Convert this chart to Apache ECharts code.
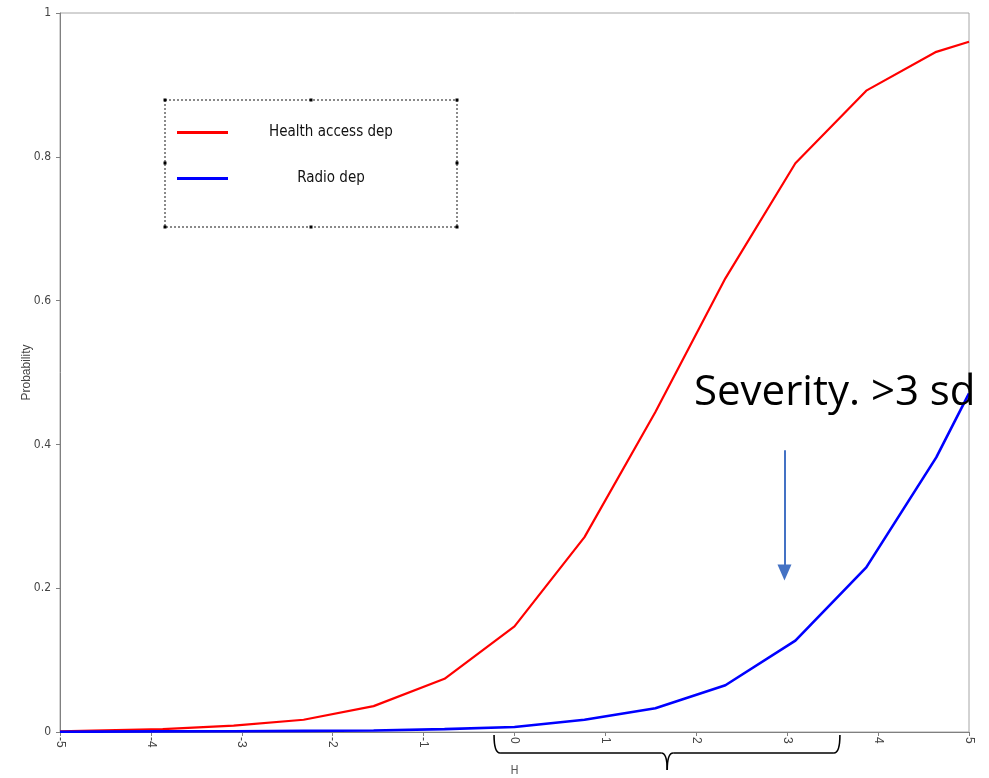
<!DOCTYPE html>
<html>
<head>
<meta charset="utf-8">
<script src="https://cdn.jsdelivr.net/npm/echarts@6/dist/echarts.min.js"></script>
<style>html,body{margin:0;padding:0;background:#fff;}#c{width:989px;height:778px;}</style>
</head>
<body>
<div id="c"></div>
<script>
// ---- data ----
const xValues = [-5, -4.64, -3.87, -3.09, -2.32, -1.55, -0.77, 0, 0.77, 1.55, 2.32, 3.09, 3.87, 4.64, 5];
const healthAccessDep = [0.001, 0.002, 0.004, 0.009, 0.017, 0.036, 0.074, 0.147, 0.271, 0.445, 0.631, 0.791, 0.892, 0.946, 0.960];
const radioDep = [0.0003, 0.0005, 0.0008, 0.001, 0.0015, 0.002, 0.004, 0.007, 0.017, 0.033, 0.065, 0.127, 0.229, 0.382, 0.471];
const seriesNames = ['Health access dep', 'Radio dep'];
const annotationText = 'Severity. >3 sd';
const arrowFrom = [2.97, 0.392];
const arrowTo = [2.97, 0.222];
const braceRange = [-0.225, 3.58, 1.68];
const xAxisName = 'H';
const yAxisName = 'Probability';

const narrow = "'Liberation Sans Narrow','DejaVu Sans Condensed','Liberation Sans',sans-serif";

const chart = echarts.init(document.getElementById('c'), null, {renderer: 'canvas'});
const option = {
  animation: false,
  backgroundColor: '#ffffff',
  grid: {left: 60, right: 20, top: 13, bottom: 46, show: true, borderColor: '#a6a6a6', borderWidth: 1, backgroundColor: 'transparent'},
  legend: {
    left: 165, top: 100, orient: 'vertical',
    padding: [25, 28, 41, 12],
    itemWidth: 51, itemHeight: 3, itemGap: 31,
    icon: 'rect',
    borderColor: '#8a8a8a', borderWidth: 2, borderType: 'dotted',
    formatter: function (n) { return '{c|' + n + '}'; },
    textStyle: {
      rich: {c: {width: 196, align: 'center', fontSize: 15, lineHeight: 16, fontFamily: narrow, color: '#111'}}
    },
    selectedMode: false,
    data: seriesNames
  },
  xAxis: {
    type: 'value', min: -5, max: 5, interval: 1,
    axisLine: {show: true, onZero: false, lineStyle: {color: '#808080', width: 1}},
    axisTick: {show: true, length: 4, lineStyle: {color: '#808080'}},
    axisLabel: {rotate: -90, margin: 5, fontSize: 12, fontFamily: "'Liberation Sans',sans-serif", color: '#444'},
    splitLine: {show: false}
  },
  yAxis: {
    type: 'value', min: 0, max: 1, interval: 0.2,
    name: yAxisName, nameLocation: 'middle', nameGap: 27, nameRotate: 90, nameMoveOverlap: false,
    nameTextStyle: {fontSize: 12, fontFamily: "'Liberation Sans',sans-serif", color: '#444'},
    axisLine: {show: true, onZero: false, lineStyle: {color: '#808080', width: 1}},
    axisTick: {show: true, length: 4, lineStyle: {color: '#808080'}},
    axisLabel: {margin: 9, fontSize: 12, fontFamily: narrow, color: '#444'},
    splitLine: {show: false}
  },
  series: [
    {
      name: seriesNames[0], type: 'line', showSymbol: false, smooth: false,
      color: '#ff0000', lineStyle: {color: '#ff0000', width: 2.2},
      data: xValues.map((x, i) => [x, healthAccessDep[i]]),
      z: 3
    },
    {
      name: seriesNames[1], type: 'line', showSymbol: false, smooth: false,
      color: '#0000ff', lineStyle: {color: '#0000ff', width: 2.6},
      data: xValues.map((x, i) => [x, radioDep[i]]),
      z: 3,
      markLine: {
        silent: true, animation: false,
        symbol: ['none', 'triangle'], symbolSize: [14, 16],
        lineStyle: {color: '#4472C4', width: 2, type: 'solid'},
        label: {show: false},
        emphasis: {disabled: true},
        data: [[{coord: arrowFrom}, {coord: arrowTo}]]
      }
    }
  ]
};
chart.setOption(option);

// decorations positioned through the axes
const p0 = chart.convertToPixel({gridIndex: 0}, [braceRange[0], 0]);
const p1 = chart.convertToPixel({gridIndex: 0}, [braceRange[1], 0]);
const pc = chart.convertToPixel({gridIndex: 0}, [braceRange[2], 0]);
const pH = chart.convertToPixel({gridIndex: 0}, [0, 0]);
const y0 = p0[1];
const x0 = p0[0], x1 = p1[0], xc = pc[0];
const yb = y0 + 21;
const braceStyle = {stroke: '#000', lineWidth: 1.6, fill: 'none'};
function q(xa, ya, cx, cy, xb, yb2) {
  return {type: 'bezierCurve', shape: {x1: xa, y1: ya, cpx1: cx, cpy1: cy, x2: xb, y2: yb2}, style: braceStyle, silent: true, z: 10};
}
function ln(xa, ya, xb, yb2) {
  return {type: 'line', shape: {x1: xa, y1: ya, x2: xb, y2: yb2}, style: braceStyle, silent: true, z: 10};
}
const graphics = [
  q(x0, y0 + 3, x0, yb, x0 + 6, yb),
  ln(x0 + 6, yb, xc - 6, yb),
  q(xc - 6, yb, xc, yb, xc, y0 + 38),
  q(xc, y0 + 38, xc, yb, xc + 6, yb),
  ln(xc + 6, yb, x1 - 6, yb),
  q(x1 - 6, yb, x1, yb, x1, y0 + 3),
  {type: 'text', x: pH[0], y: y0 + 39, style: {text: xAxisName, fontSize: 12, fontFamily: narrow, fill: '#555', align: 'center', verticalAlign: 'middle'}, silent: true},
  {type: 'text', x: 694, y: 393, style: {text: annotationText, fontSize: 42, fontFamily: "'Open Sans',sans-serif", fill: '#000', align: 'left', verticalAlign: 'middle'}, z: 20, silent: true}
];
const dots = [[165,100],[311,100],[457,100],[165,163],[457,163],[165,227],[311,227],[457,227]];
dots.forEach(p => graphics.push({type: 'rect', shape: {x: p[0] - 1.5, y: p[1] - 1.5, width: 3, height: 3}, style: {fill: '#000'}, z: 20, silent: true}));
chart.setOption({graphic: graphics});
</script>
</body>
</html>
